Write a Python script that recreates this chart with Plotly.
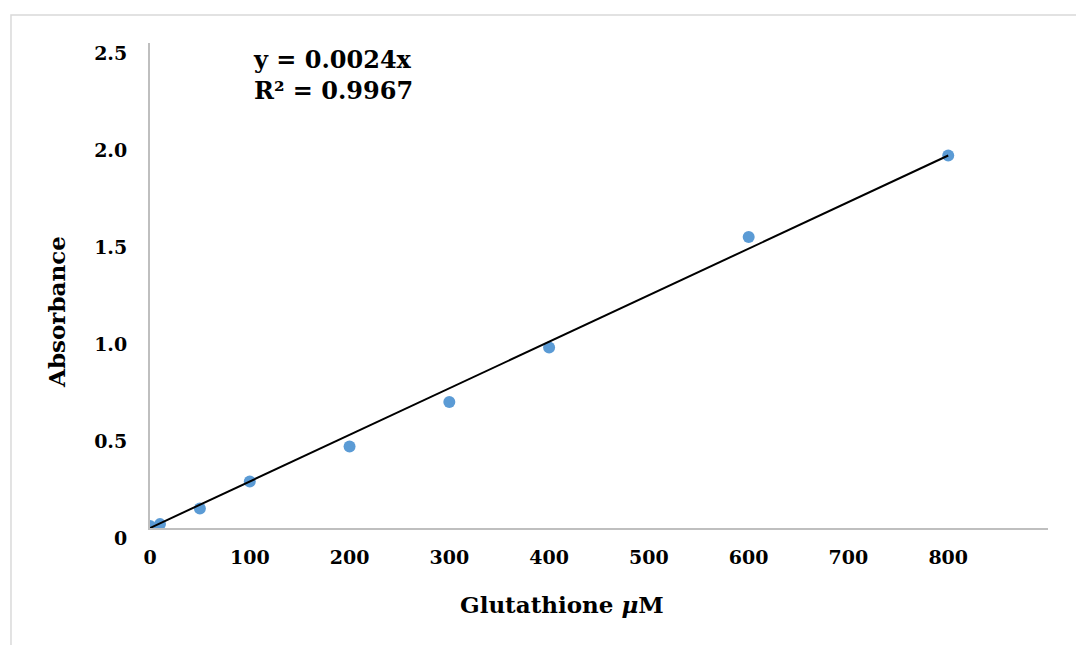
import plotly.graph_objects as go

# Data
glutathione_uM = [0, 10, 50, 100, 200, 300, 400, 600, 800]
absorbance = [0.01, 0.02, 0.10, 0.24, 0.42, 0.65, 0.93, 1.50, 1.92]
trend_slope = 0.0024
r_squared = 0.9967
trend_x = [0, 800]
x_ticks = [0, 100, 200, 300, 400, 500, 600, 700, 800]
y_ticks = [0, 0.5, 1.0, 1.5, 2.0, 2.5]
y_tick_labels = ["0", "0.5", "1.0", "1.5", "2.0", "2.5"]
x_title = "Glutathione <i>μ</i>M"
y_title = "Absorbance"

FONT = "DejaVu Serif"

fig = go.Figure()
fig.add_trace(go.Scatter(
    x=glutathione_uM, y=absorbance, mode="markers",
    marker=dict(color="#5B9BD5", size=12, line=dict(width=0)),
    showlegend=False,
))
fig.add_trace(go.Scatter(
    x=trend_x, y=[trend_slope * v for v in trend_x], mode="lines",
    line=dict(color="black", width=2), showlegend=False,
))

fig.update_layout(
    width=1084, height=645,
    margin=dict(l=142, r=44, t=35, b=125),
    paper_bgcolor="white", plot_bgcolor="white",
    font=dict(family=FONT, color="black"),
    xaxis=dict(
        range=[0, 900], tickvals=x_ticks,
        ticktext=[f"<b>{v}</b>" for v in x_ticks],
        showgrid=False, zeroline=False, showline=True,
        linecolor="#BFBFBF", linewidth=2, ticks="",
        tickfont=dict(family=FONT, size=19, color="black"),
        ticklabelstandoff=11,
    ),
    yaxis=dict(
        range=[0, 2.5], tickvals=y_ticks,
        ticktext=[f"<b>{t}</b>" for t in y_tick_labels],
        showgrid=False, zeroline=False, showline=True,
        linecolor="#BFBFBF", linewidth=2, ticks="",
        tickfont=dict(family=FONT, size=19, color="black"),
        ticklabelstandoff=17, ticklabelshift=10,
    ),
    annotations=[
        dict(
            text=f"<b>y = {trend_slope}x</b><br><b>R² = {r_squared}</b>",
            xref="paper", yref="paper", x=0.112, y=1.0,
            xanchor="left", yanchor="top", align="left", showarrow=False,
            font=dict(family=FONT, size=24, color="black"),
        ),
        dict(
            text=f"<b>{x_title}</b>", xref="paper", yref="paper",
            x=0.459, y=-0.158, xanchor="center", yanchor="middle",
            showarrow=False, font=dict(family=FONT, size=23, color="black"),
        ),
        dict(
            text=f"<b>{y_title}</b>", xref="paper", yref="paper",
            x=-0.105, y=0.445, xanchor="center", yanchor="middle",
            textangle=-90, showarrow=False,
            font=dict(family=FONT, size=23, color="black"),
        ),
    ],
    shapes=[dict(
        type="rect", xref="paper", yref="paper",
        x0=-0.1548, x1=1.0356, y0=-0.26, y1=1.0577,
        line=dict(color="#D9D9D9", width=1.5), fillcolor="rgba(0,0,0,0)",
        layer="below",
    )],
)

fig.write_html("out.html")
